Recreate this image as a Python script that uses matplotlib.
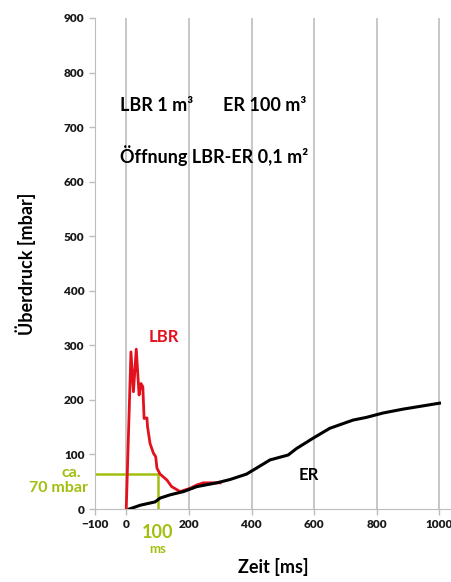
import matplotlib
matplotlib.use("Agg")
import matplotlib.pyplot as plt

plt.rcParams["font.family"] = ["Lato", "DejaVu Sans"]
plt.rcParams["font.weight"] = "bold"

# Daten
lbr_t = [0, 15, 23, 32, 41, 47, 53, 57, 66, 68, 76, 87, 94, 98, 108, 130, 145, 172, 188, 204, 225, 246, 283, 300]
lbr_p = [0, 288, 215, 293, 209, 230, 224, 166, 167, 151, 120, 102, 96, 75, 64, 53, 41, 32, 35, 38, 44, 48, 48, 48]

er_t = [10, 45, 92, 108, 140, 183, 225, 289, 331, 384, 416, 459, 517, 544, 597, 650, 724, 767, 820, 883, 947, 1000]
er_p = [0, 7, 13, 20, 26, 32, 41, 48, 54, 64, 75, 90, 99, 111, 130, 148, 163, 168, 176, 183, 189, 194]

mark_t = 100
mark_p = 65

x_ticks = [-100, 0, 200, 400, 600, 800, 1000]
grid_x = [0, 200, 400, 600, 800, 1000]
y_ticks = list(range(0, 901, 100))

RED = "#e3101d"
GREEN = "#a2bf0f"
GRAY = "#bdbdbd"

fig = plt.figure(figsize=(4.52, 5.82), dpi=100)
ax = fig.add_axes([0.210, 0.1254, 0.79, 0.8437])

for g in grid_x:
    ax.axvline(g, color=GRAY, lw=1.2, zorder=0)

ax.plot([-100, mark_t], [mark_p, mark_p], color=GREEN, lw=1.8, zorder=2)
ax.plot([mark_t, mark_t], [0, mark_p], color=GREEN, lw=1.8, zorder=2)

ax.plot(lbr_t, lbr_p, color=RED, lw=2, zorder=3)
ax.plot(er_t, er_p, color="black", lw=2.2, zorder=4)

ax.set_xlim(-100, 1040)
ax.set_ylim(0, 900)
ax.set_xticks(x_ticks)
ax.set_yticks(y_ticks)
ax.tick_params(axis="both", colors=GRAY, labelcolor="#1a1a1a", labelsize=8.5, length=4, width=1)
for lab in ax.get_xticklabels() + ax.get_yticklabels():
    lab.set_fontweight("heavy")
ax.spines["top"].set_visible(False)
ax.spines["right"].set_visible(False)
ax.spines["left"].set_color(GRAY)
ax.spines["bottom"].set_color(GRAY)

ax.set_xlabel("Zeit [ms]", fontsize=13, fontweight="bold", labelpad=20)
ax.set_ylabel("Überdruck [mbar]", fontsize=13, fontweight="bold", labelpad=20)

ax.text(-20, 740, "LBR 1 m³", fontsize=13, fontweight="bold", va="center")
ax.text(310, 740, "ER 100 m³", fontsize=13, fontweight="bold", va="center")
ax.text(-20, 648, "Öffnung LBR-ER 0,1 m²", fontsize=13, fontweight="bold", va="center")
ax.text(70, 315, "LBR", color=RED, fontsize=12, fontweight="bold", va="center")
ax.text(550, 62, "ER", color="black", fontsize=12, fontweight="bold", va="center")

ax.text(-177, 66, "ca.", color=GREEN, fontsize=11.5, fontweight="bold",
        ha="center", va="center", clip_on=False)
ax.text(-216, 38, "70 mbar", color=GREEN, fontsize=11.5, fontweight="bold",
        ha="center", va="center", clip_on=False)
ax.text(mark_t, -27, "100", color=GREEN, fontsize=13, fontweight="bold",
        ha="center", va="top", clip_on=False)
ax.text(mark_t, -63, "ms", color=GREEN, fontsize=9.5, fontweight="bold",
        ha="center", va="top", clip_on=False)

fig.savefig("out.png", dpi=100, facecolor="white")
